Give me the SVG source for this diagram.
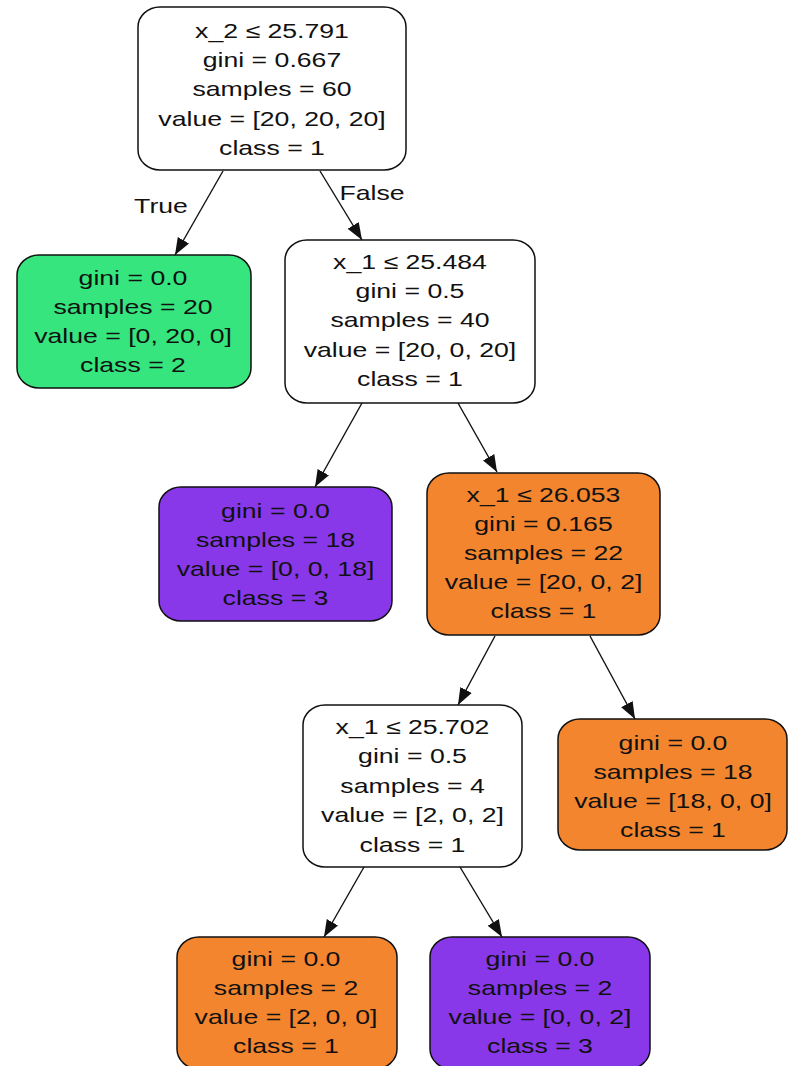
<svg xmlns="http://www.w3.org/2000/svg" width="788" height="1066" viewBox="0 0 788 1066">
  <defs>
    <style>
      .box { stroke: #111; stroke-width: 1.5; }
      .white { fill: #ffffff; }
      .green { fill: #36e57e; }
      .purple { fill: #8838e8; }
      .orange { fill: #f3852f; }
      text { font-family: "Liberation Sans", Arial, Helvetica, sans-serif; font-size: 20.5px; fill: #111; text-anchor: middle; }
      .edge { stroke: #111; stroke-width: 1.4; fill: none; marker-end: url(#arrow); }
    </style>
    <marker id="arrow" markerUnits="userSpaceOnUse" markerWidth="18" markerHeight="14" refX="17" refY="7" orient="auto">
      <path d="M0,0.5 L17,7 L0,13.5 z" fill="#111"/>
    </marker>
  </defs>

  <rect width="788" height="1066" fill="#ffffff"/>

  <!-- connectors -->
  <g id="edges">
    <line class="edge" x1="223" y1="171" x2="175" y2="255"/>
    <line class="edge" x1="320" y1="171" x2="362" y2="240"/>
    <line class="edge" x1="362" y1="403" x2="315" y2="487"/>
    <line class="edge" x1="458" y1="403" x2="497" y2="472"/>
    <line class="edge" x1="495" y1="636" x2="458" y2="705"/>
    <line class="edge" x1="590" y1="636" x2="635" y2="719"/>
    <line class="edge" x1="364" y1="867" x2="324" y2="937"/>
    <line class="edge" x1="460" y1="867" x2="502" y2="937"/>
    <g transform="translate(161,0) scale(1.3,1)"><text x="0" y="213">True</text></g>
    <g transform="translate(372,0) scale(1.3,1)"><text x="0" y="200">False</text></g>
  </g>

  <!-- root split -->
  <g id="node0">
    <rect class="box white" x="138" y="7" width="268" height="163" rx="22" ry="20"/>
    <g transform="translate(272,0) scale(1.3,1)">
      <text x="0" y="38">x_2 ≤ 25.791</text>
      <text x="0" y="67.2">gini = 0.667</text>
      <text x="0" y="96.4">samples = 60</text>
      <text x="0" y="125.6">value = [20, 20, 20]</text>
      <text x="0" y="154.8">class = 1</text>
    </g>
  </g>

  <g id="node1">
    <rect class="box green" x="17" y="255" width="234" height="133" rx="22" ry="20"/>
    <g transform="translate(133,0) scale(1.3,1)">
      <text x="0" y="285">gini = 0.0</text>
      <text x="0" y="314">samples = 20</text>
      <text x="0" y="343">value = [0, 20, 0]</text>
      <text x="0" y="372">class = 2</text>
    </g>
  </g>

  <g id="node2">
    <rect class="box white" x="285" y="240" width="250" height="163" rx="22" ry="20"/>
    <g transform="translate(410,0) scale(1.3,1)">
      <text x="0" y="269">x_1 ≤ 25.484</text>
      <text x="0" y="298.2">gini = 0.5</text>
      <text x="0" y="327.4">samples = 40</text>
      <text x="0" y="356.6">value = [20, 0, 20]</text>
      <text x="0" y="385.8">class = 1</text>
    </g>
  </g>

  <g id="node3">
    <rect class="box purple" x="159" y="487" width="233" height="134" rx="22" ry="20"/>
    <g transform="translate(275.5,0) scale(1.3,1)">
      <text x="0" y="518">gini = 0.0</text>
      <text x="0" y="547">samples = 18</text>
      <text x="0" y="576">value = [0, 0, 18]</text>
      <text x="0" y="605">class = 3</text>
    </g>
  </g>

  <g id="node4">
    <rect class="box orange" x="427" y="473" width="233" height="162" rx="22" ry="20"/>
    <g transform="translate(543.5,0) scale(1.3,1)">
      <text x="0" y="502">x_1 ≤ 26.053</text>
      <text x="0" y="531">gini = 0.165</text>
      <text x="0" y="560">samples = 22</text>
      <text x="0" y="589">value = [20, 0, 2]</text>
      <text x="0" y="618">class = 1</text>
    </g>
  </g>

  <g id="node5">
    <rect class="box white" x="303" y="705" width="219" height="162" rx="22" ry="20"/>
    <g transform="translate(412.5,0) scale(1.3,1)">
      <text x="0" y="734">x_1 ≤ 25.702</text>
      <text x="0" y="763.4">gini = 0.5</text>
      <text x="0" y="792.8">samples = 4</text>
      <text x="0" y="822.2">value = [2, 0, 2]</text>
      <text x="0" y="851.6">class = 1</text>
    </g>
  </g>

  <g id="node6">
    <rect class="box orange" x="558" y="719" width="229" height="131" rx="22" ry="20"/>
    <g transform="translate(673,0) scale(1.3,1)">
      <text x="0" y="750">gini = 0.0</text>
      <text x="0" y="779">samples = 18</text>
      <text x="0" y="808">value = [18, 0, 0]</text>
      <text x="0" y="837">class = 1</text>
    </g>
  </g>

  <g id="node7">
    <rect class="box orange" x="177" y="937" width="220" height="132" rx="22" ry="20"/>
    <g transform="translate(286,0) scale(1.3,1)">
      <text x="0" y="966">gini = 0.0</text>
      <text x="0" y="995">samples = 2</text>
      <text x="0" y="1024">value = [2, 0, 0]</text>
      <text x="0" y="1053">class = 1</text>
    </g>
  </g>

  <g id="node8">
    <rect class="box purple" x="430" y="937" width="220" height="132" rx="22" ry="20"/>
    <g transform="translate(540,0) scale(1.3,1)">
      <text x="0" y="966">gini = 0.0</text>
      <text x="0" y="995">samples = 2</text>
      <text x="0" y="1024">value = [0, 0, 2]</text>
      <text x="0" y="1053">class = 3</text>
    </g>
  </g>
</svg>
